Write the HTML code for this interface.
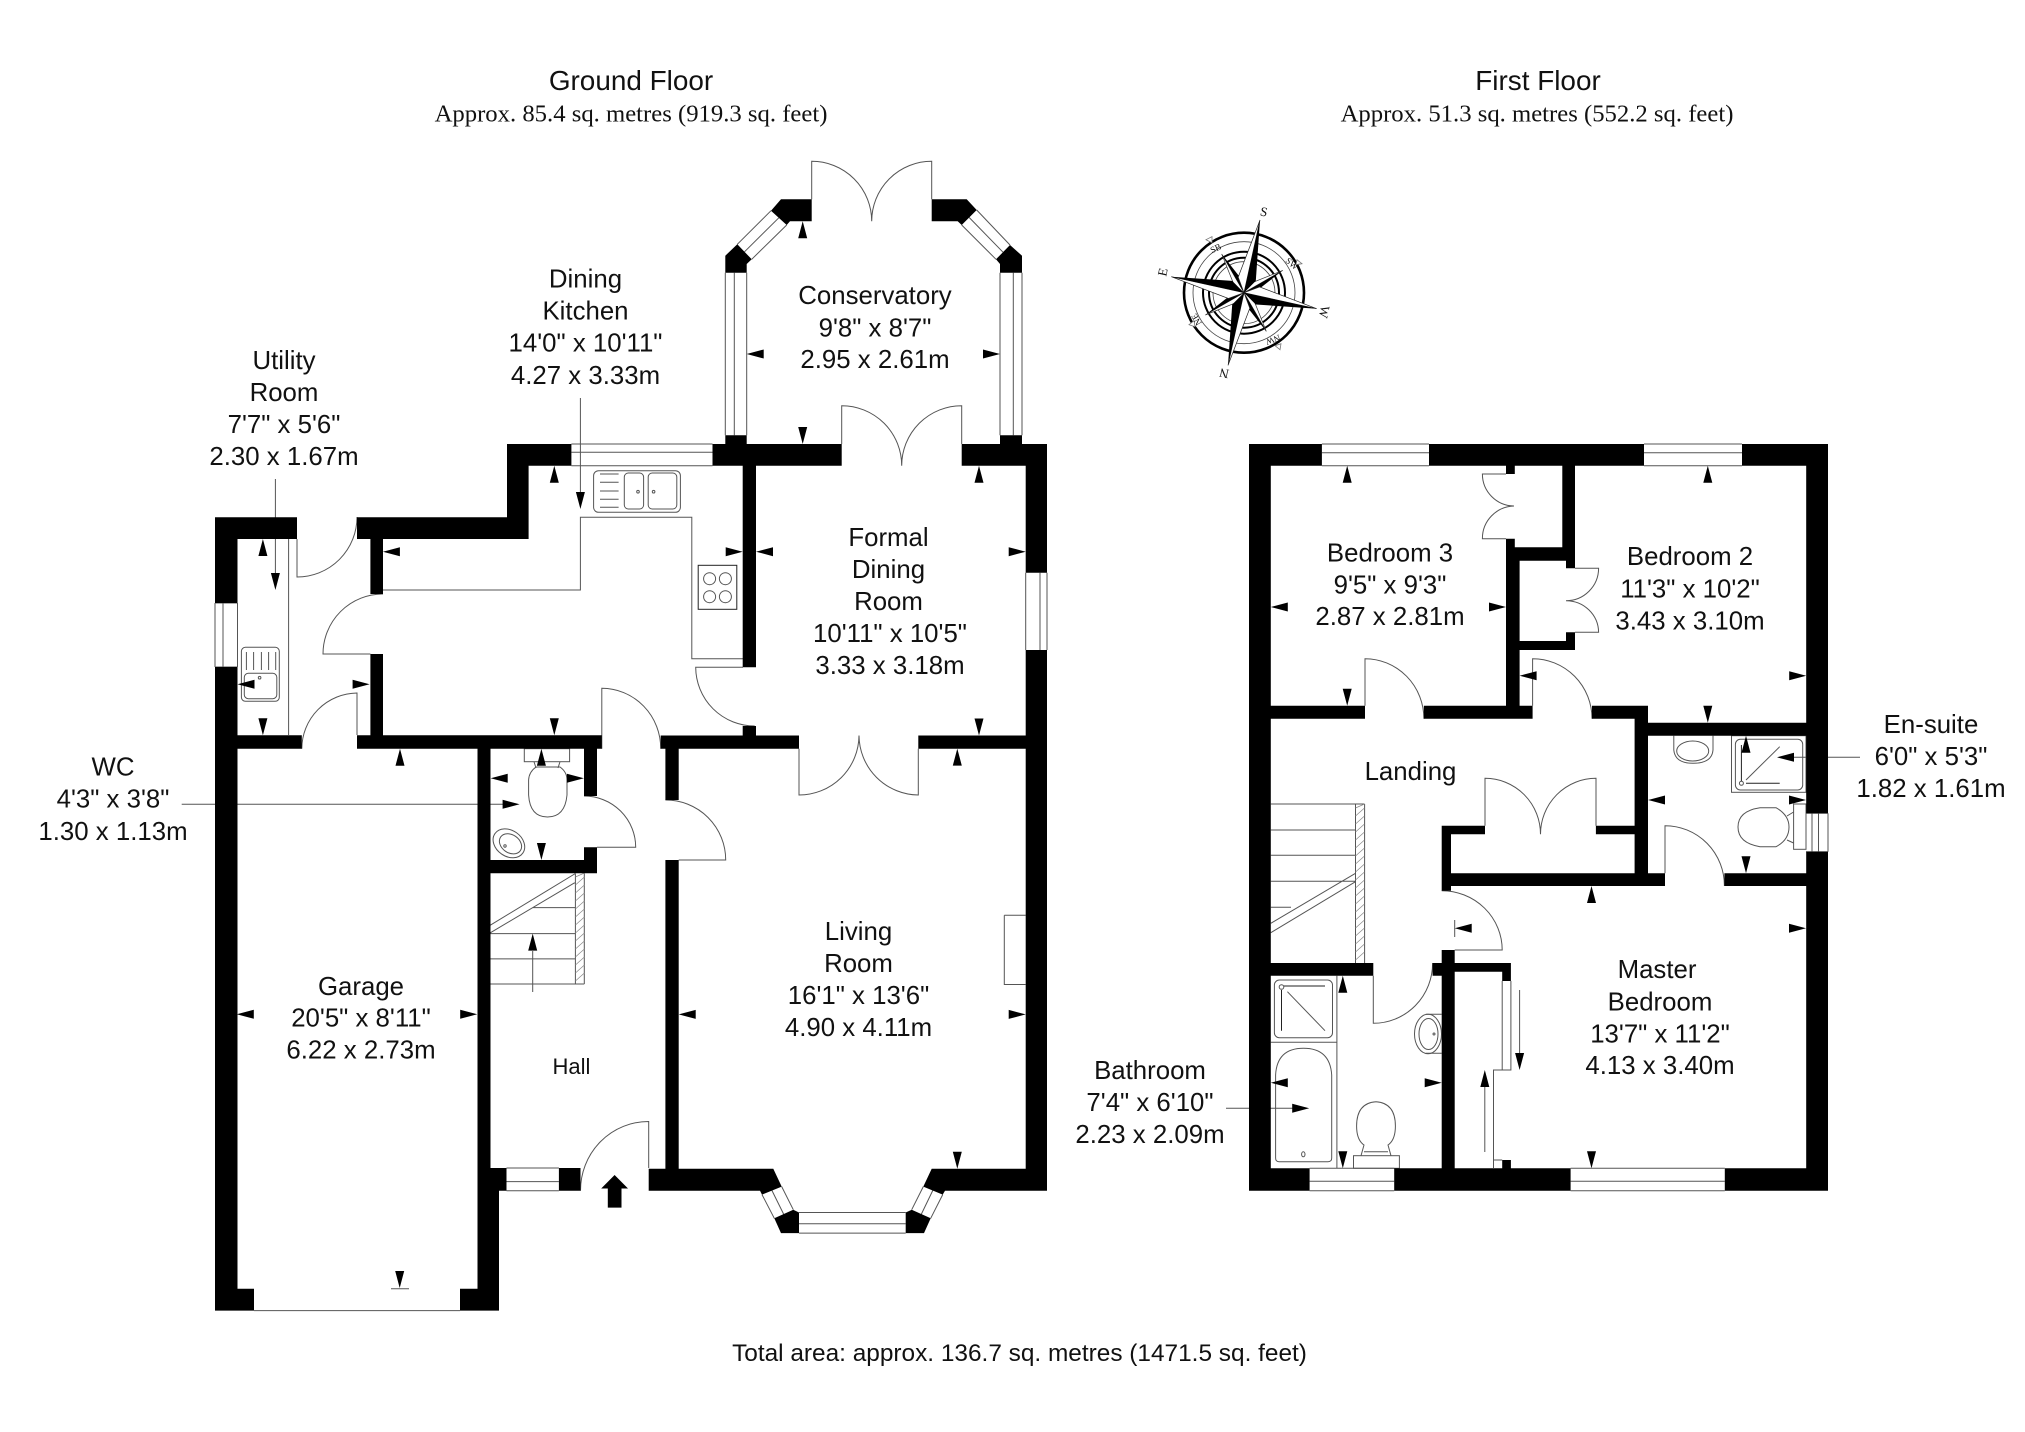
<!DOCTYPE html>
<html><head><meta charset="utf-8"><title>Floor plan</title>
<style>
html,body{margin:0;padding:0;background:#fff}
svg{display:block}
text{font-family:"Liberation Sans",sans-serif;fill:#111;text-anchor:middle;font-size:25.8px}
.s{font-family:"Liberation Serif",serif;font-size:24.7px}
.h{font-size:27.9px}
.c{font-family:"Liberation Serif",serif;font-size:13px}
.d{font-family:"Liberation Serif",serif;font-size:9px}
.t{fill:none;stroke:#555;stroke-width:1}
.k{fill:none;stroke:#222;stroke-width:1}
</style></head><body>
<svg xmlns="http://www.w3.org/2000/svg" width="2025" height="1432" viewBox="0 0 2025 1432">
<rect width="2025" height="1432" fill="#fff"/>

<!-- thin lines: ground floor -->
<path class="t" d="M571.4 444H712.5M571.4 452.3H712.5M571.4 465.7H712.5
M215 603H237.5M215 667H237.5M215 603V667M223 603V667M237.5 603V667
M725.3 272.7V435.3M734.3 272.7V435.3M746.7 272.7V435.3M1000 272.7V435.3M1013.3 272.7V435.3M1022 272.7V435.3
M771 210.7L737.3 244.3M778.8 217.8L744.5 251.8M786.7 225L751.7 259.3
M976.7 210L1010 245M969.2 217.5L1003 252.2M961.7 225L996 259.3
M1025.7 572.7V650M1040 572.7V650M1047 572.7V650
M799 1212.5H905.7M799 1223.8H905.7M799 1233.1H905.7
M762 1194.6L774.3 1218.3M771.7 1190L784 1214.9M781.7 1186.6L793.3 1209.7
M942.7 1194.6L930.7 1218.3M933 1190L921 1214.9M923.3 1186.6L911.7 1209.7
M506.5 1168H558.9M506.5 1181.6H558.9M506.5 1190.8H558.9
M254 1310.6H460M391 1288.7H409
M811.7 199.3V161.3A60 60 0 0 1 871.7 221.3A60 60 0 0 1 931.7 161.3V199.3
M841.7 444V405.7A60 60 0 0 1 901.7 465.7A60 60 0 0 1 961.7 405.7V444
M799 748.7V795A60 60 0 0 0 859 735.5A60 60 0 0 0 918.3 795V748.7
M297 539V577A60 60 0 0 0 357 517
M370.4 654H323A60 60 0 0 1 383 594
M357 735V693A56 56 0 0 0 301.8 748.7
M601.8 748.7V688.3A59 60 0 0 1 660.7 748.7
M743 667.3H695.7A59 59 0 0 0 754.7 726
M597 847.3H635.7A51.7 51.3 0 0 0 584 796
M678.7 860H725.7A60 60 0 0 0 665.4 800
M648.7 1168V1121.5A68 69 0 0 0 580.5 1190.8
M1004.3 915.3H1025.7M1004.3 915.3V984.5H1025.7
M382.9 590H580.4V517.3H691.8V658.7H743
M288.6 539V735
M575.4 873.5V984M584.3 873.5V984M490.5 984H584.3M490.5 958.9H575.4M490.5 933.6H575.4M532.3 907.6H575.4
M490.3 925.2L575.4 873.5M490.3 932.8L575.4 882.3M532.7 951V992
M580.4 398V492M275.4 479V573M181.7 804.3H503"/>
<path d="M575.4 877l9-4M575.4 885l9-8M575.4 893l9-8M575.4 901l9-8M575.4 909l9-8M575.4 917l9-8M575.4 925l9-8M575.4 933l9-8M575.4 941l9-8M575.4 949l9-8M575.4 957l9-8M575.4 965l9-8M575.4 973l9-8M575.4 981l9-8" stroke="#888" stroke-width=".7" fill="none"/>

<!-- kitchen fixtures -->
<g class="t" fill="none" stroke="#555">
<rect class="t" x="593.6" y="470.7" width="86.8" height="41.6" rx="5"/>
<rect class="t" x="624.3" y="473" width="19.3" height="36" rx="4"/>
<rect class="t" x="648.2" y="473" width="28.6" height="36" rx="4"/>
<path class="t" d="M600 474H618.6M600 482.3H618.6M600 491H618.6M600 499.3H618.6M600 507.3H618.6"/>
<circle class="t" cx="638" cy="491.7" r="1.3"/><circle class="t" cx="653.6" cy="491.7" r="1.3"/>
<rect class="k" x="698.2" y="565.3" width="38.6" height="44"/>
<circle class="t" cx="709.6" cy="578.7" r="6"/><circle class="t" cx="725.4" cy="578.7" r="6"/>
<circle class="t" cx="709.6" cy="596.7" r="6"/><circle class="t" cx="725.4" cy="596.7" r="6"/>
<rect class="t" x="241.4" y="647.3" width="37.9" height="54" rx="4"/>
<rect class="t" x="244.3" y="673.3" width="32.5" height="25.4" rx="4"/>
<path class="t" d="M246.4 652V670M253.6 652V670M261.4 652V670M268.6 652V670M275.7 652V670"/>
<circle class="t" cx="259.6" cy="677.7" r="1.3"/>
<!-- WC -->
<rect class="t" x="524.3" y="748.7" width="45.3" height="13"/>
<path class="t" d="M534 761.7L536 768M560 761.7L558 768M536 767H560Q567 772 567 780V795Q565 817 547.5 817Q530 817 528.6 795V780Q529 772 536 767Z"/>
<ellipse class="t" cx="508.9" cy="843.3" rx="17" ry="13" transform="rotate(35 508.9 843.3)"/>
<ellipse class="t" cx="510.5" cy="843.8" rx="12" ry="9" transform="rotate(35 510.5 843.8)"/>
<circle class="t" cx="505" cy="846" r="1.2"/>
</g>

<!-- walls: ground floor -->
<path fill="#000" d="M215 517.3H297V539H237.5V603H215Z
M215 667H237.5V1288.7H254V1310.6H215Z
M357 517.3H507V444H571.4V465.7H528.6V539H357Z
M712.5 444H841.7V465.7H756V667.3H742.7V465.7H712.5Z
M961.7 444H1047V572.7H1025.7V465.7H961.7Z
M1025.7 650H1047V1190.8H945L942.7 1194.6L923.3 1186.6L931.7 1168.7H1025.7Z
M742.7 726H756V735.5H742.7Z
M370.4 539H383V594H370.4Z
M370.4 654H383V735.3H370.4Z
M237.5 735.3H301.8V748.7H237.5Z
M357 735.3H601.8V748.7H357Z
M660.7 735.5H799V748.7H660.7Z
M918.3 735.5H1030V748.7H918.3Z
M477.5 748.7H490.5V1168H506.5V1190.8H499V1310.6H460V1288.7H477.5Z
M584 748.7H597V796H584Z
M584 847.3H597V873.3H490.5V860H584Z
M665.4 748.7H678.7V800H665.4Z
M665.4 860H678.7V1168.7H773.3L781.7 1186.6L762 1194.6L760 1190.8H648.7V1168.7H665.4Z
M558.9 1168H580.5V1190.8H558.9Z
M774.3 1218.3L793.3 1209.7L799 1212.5V1233.1H781Z
M905.7 1212.5L911.7 1209.7L930.7 1218.3L924 1233.1H905.7Z
M781 199.3H811.7V221.3H790L786.7 225L771 210.7Z
M737.3 244.3L751.7 259.3L746.7 264V272.7H725.3V255.7Z
M931.7 199.3H966.7L976.7 210L961.7 225L957.7 221.3H931.7Z
M1010 245L1022 255.7V272.7H1000V264L996 259.3Z
M725.3 435.3H746.7V444H725.3Z
M1000 435.3H1022V444H1000Z"/>

<!-- thin lines: first floor -->
<path class="t" d="M1321.9 444H1429M1321.9 452.7H1429M1321.9 465.7H1429
M1644 444H1742M1644 452.7H1742M1644 465.7H1742
M1309.6 1168.3H1394.2M1309.6 1181.3H1394.2M1309.6 1190.7H1394.2
M1570.6 1168.3H1724.8M1570.6 1181.3H1724.8M1570.6 1190.7H1724.8
M1806 813.3H1828M1806 851.7H1828M1812 813.3V851.7M1818.5 813.3V851.7M1828 813.3V851.7
M1506 474H1482.4A32 32 0 0 0 1514 506A32.5 32.5 0 0 0 1482.4 538.7H1506
M1575 568.3H1598.6A32.5 32.5 0 0 1 1566 600.7A32.5 32 0 0 1 1598.6 632.3H1575
M1365 705.7V658.7A59 60 0 0 1 1423.9 718.7
M1532.6 705.7V658.7A59.4 60 0 0 1 1592 718.7
M1485 825.7V778.3A55.5 56 0 0 1 1540.5 834.3A55.5 56 0 0 1 1596 778.3V825.7
M1665 873.3V825.7A59.4 60 0 0 1 1724.4 886
M1454.7 950H1502.2A60.5 59.3 0 0 0 1441.7 890.7
M1373.3 975.7V1023.3A59.3 60 0 0 0 1432.6 963
M1270.8 804H1364.6M1355.5 804V963M1364.6 804V963M1270.8 830H1355.5M1270.8 855.3H1355.5M1270.8 881.3H1355.5M1270.8 907.3H1291
M1270.8 923.3L1355.5 873.3M1270.8 932.7L1355.5 881.7
M1502.2 981V1070H1493.5V1160H1502.2M1510.9 981V1070H1502.2M1493.5 1160V1168
M1519.6 990V1054M1484.8 1087V1152M1454.7 920V937
M1336.9 975.7V1168.3M1270.8 1042.3H1336.9
M1226 1108.3H1293M1793 757.3H1860"/>
<path d="M1355.5 808l9-4M1355.5 816l9-8M1355.5 824l9-8M1355.5 832l9-8M1355.5 840l9-8M1355.5 848l9-8M1355.5 856l9-8M1355.5 864l9-8M1355.5 872l9-8M1355.5 880l9-8M1355.5 888l9-8M1355.5 896l9-8M1355.5 904l9-8M1355.5 912l9-8M1355.5 920l9-8M1355.5 928l9-8M1355.5 936l9-8M1355.5 944l9-8M1355.5 952l9-8M1355.5 960l9-8" stroke="#888" stroke-width=".7" fill="none"/>

<!-- first floor fixtures -->
<rect class="t" x="1731.5" y="735.7" width="74.5" height="56.6"/>
<rect class="t" x="1735.4" y="739.3" width="67.3" height="50.7" rx="5"/>
<path class="k" d="M1741.4 745V781M1746 783.3H1779.7"/>
<path class="t" d="M1746 780L1779.7 746.7"/>
<circle class="t" cx="1741.4" cy="783.3" r="2"/>
<path class="t" d="M1673.8 735.7V750Q1675 763.3 1693 763.3Q1712 763.3 1713 750V735.7"/>
<ellipse class="t" cx="1692.7" cy="751" rx="16" ry="10"/>
<rect class="t" x="1793.6" y="804" width="12.4" height="45.3"/>
<path class="t" d="M1793.6 812L1787 816M1793.6 843L1787 840M1760 807.7H1776Q1789 815 1789 827Q1789 840 1776 846.7H1760Q1738 843 1738 827Q1738 811 1760 807.7Z"/>
<rect class="t" x="1274.4" y="980" width="58.1" height="57.7" rx="5"/>
<path class="k" d="M1283.5 986H1325M1281.5 990V1030.7"/>
<path class="t" d="M1287.4 991.7L1325 1030.7"/>
<circle class="t" cx="1281.5" cy="987" r="2.3"/>
<path class="t" d="M1275.6 1075Q1277 1048.3 1303.5 1048.3Q1330 1048.3 1331.7 1075V1158Q1331.7 1161.7 1328 1161.7H1279Q1275.6 1161.7 1275.6 1158Z"/>
<ellipse class="t" cx="1303.3" cy="1154.3" rx="1.7" ry="2.5"/>
<path class="t" d="M1376 1101.7Q1395.4 1103 1395.4 1126Q1395.4 1140 1388 1145L1391 1155.7M1376 1101.7Q1356.6 1103 1356.6 1126Q1356.6 1140 1364 1145L1361 1155.7M1364 1151.7H1388"/>
<rect class="t" x="1353.5" y="1155.7" width="45.9" height="12.6"/>
<path class="t" d="M1425.8 1014.3H1441.7M1425.8 1053.3H1441.7"/>
<ellipse class="t" cx="1428" cy="1034" rx="13.5" ry="19.7"/>
<ellipse class="t" cx="1428.5" cy="1034" rx="9.5" ry="15.5"/>
<circle class="t" cx="1434" cy="1034" r="1"/>

<!-- walls: first floor -->
<path fill="#000" d="M1249 444H1321.9V465.7H1270.8V705.7H1365V718.7H1270.8V963H1373.3V975.7H1270.8V1168.3H1309.6V1190.7H1249Z
M1429 444H1644V465.7H1575V568.3H1566V560.7H1519.6V632.3H1519.6V641H1566V632.3H1575V650H1519.6V705.7H1532.6V718.7H1423.9V705.7H1506V538.7H1514.8V547.3H1562.3V465.7H1514.8V474H1506V465.7H1429Z
M1742 444H1828V813.3H1806.2V465.7H1742Z
M1806.2 851.7H1828V1190.7H1724.8V1168.3H1806.2V886H1724.4V873.3H1806.2Z
M1592 705.7H1648V722.7H1806.2V735.7H1648V873.3H1665V886H1451V890.7H1441.7V825.7H1485V834.3H1451V873.3H1634.6V834.3H1595.9V825.7H1634.6V718.7H1592Z
M1394.2 1168.3H1441.7V975.7H1432.6V963H1510.9V981H1502.2V971.7H1454.7V1168.3H1502.2V1160H1510.9V1168.3H1570.6V1190.7H1394.2Z
M1441.7 950H1454.7V963H1441.7Z"/>

<!-- dimension arrows -->
<path fill="#000" d="
M262.9 539l-4.5 17h9z M554.3 465.7l-4.5 17h9z M400 748.7l-4.5 17h9z M541.4 748.7l-4.5 17h9z
M802.7 221.3l-4.5 17h9z M979 465.7l-4.5 17h9z M957.3 748.6l-4.5 17h9z M532.7 933.6l-4.5 17h9z
M1347.2 465.7l-4.5 17h9z M1707.8 465.7l-4.5 17h9z M1746 735.7l-4.5 17h9z M1591.5 886l-4.5 17h9z
M1342.8 975.7l-4.5 17h9z M1484.8 1070l-4.5 17h9z
M262.9 735.3l-4.5 -17h9z M554.3 735.3l-4.5 -17h9z M541.4 860l-4.5 -17h9z M802.7 444l-4.5 -17h9z
M979 735.5l-4.5 -17h9z M957.3 1168.7l-4.5 -17h9z M399.7 1288l-4.5 -17h9z M580.4 509l-4.5 -17h9z M275.4 590l-4.5 -17h9z
M1347.2 705.7l-4.5 -17h9z M1707.8 722.7l-4.5 -17h9z M1746 873.3l-4.5 -17h9z M1591.5 1168.3l-4.5 -17h9z
M1342.8 1168.3l-4.5 -17h9z M1519.6 1070l-4.5 -17h9z
M237.5 684.3l17 -4.5v9z M382.9 551.7l17 -4.5v9z M490.7 778.3l17 -4.5v9z M756 551.7l17 -4.5v9z
M746.7 354l17 -4.5v9z M236.8 1014.3l17 -4.5v9z M678.7 1014.4l17 -4.5v9z
M1270.8 607l17 -4.5v9z M1519.6 675.7l17 -4.5v9z M1648 800l17 -4.5v9z M1454.7 928.3l17 -4.5v9z
M1270.8 1082.7l17 -4.5v9z M1777 757.3l17 -4.5v9z
M369.6 684.3l-17 -4.5v9z M742.7 551.7l-17 -4.5v9z M583.9 778.3l-17 -4.5v9z M1025.7 551.7l-17 -4.5v9z
M1000 354l-17 -4.5v9z M477.2 1014.3l-17 -4.5v9z M1025.7 1014.4l-17 -4.5v9z M519.6 804.3l-17 -4.5v9z
M1506 607l-17 -4.5v9z M1806.2 675.7l-17 -4.5v9z M1806 800l-17 -4.5v9z M1806 928.3l-17 -4.5v9z
M1441.7 1082.7l-17 -4.5v9z M1309.2 1108.3l-17 -4.5v9z
M614.6 1175L628 1188.5H621.5V1207.6H607.8V1188.5H601.2Z"/>

<!-- compass -->
<g transform="translate(1244 292.7)">
<circle r="60" fill="#fff" stroke="#000" stroke-width="2.6"/>
<circle r="51" fill="none" stroke="#444" stroke-width=".8"/>
<circle r="41" fill="none" stroke="#000" stroke-width="2"/>
<circle r="35" fill="none" stroke="#000" stroke-width="2"/>
<circle r="31" fill="none" stroke="#444" stroke-width=".8"/>
<path d="M-38 -53l6 -3l0 6zM53 -33l5 4l-6 1zM36 57l-5 -4l6 -2zM-55 32l5 -4l1 6z" fill="#fff" stroke="#777" stroke-width=".8"/>
<g fill="#fff" stroke="#333" stroke-width=".7">
<path d="M0 0L-22.3 -38.7L-9.3 -6.2Z"/><path d="M0 0L38.7 -22.3L6.2 -9.3Z"/><path d="M0 0L22.3 38.7L9.3 6.2Z"/><path d="M0 0L-38.7 22.3L-6.2 9.3Z"/>
</g>
<g fill="#000">
<path d="M0 0L-22.3 -38.7L-.7 -11.2Z"/><path d="M0 0L38.7 -22.3L11.2 -.7Z"/><path d="M0 0L22.3 38.7L.7 11.2Z"/><path d="M0 0L-38.7 22.3L-11.2 .7Z"/>
</g>
<g fill="#fff" stroke="#222" stroke-width=".7">
<path d="M0 0L16 -72.7L-5.8 -15.6Z"/><path d="M0 0L72.7 16L15.6 -5.8Z"/><path d="M0 0L-16 72.7L5.8 15.6Z"/><path d="M0 0L-72.7 -16L-15.6 5.8Z"/>
</g>
<g fill="#000">
<path d="M0 0L16 -72.7L11.8 -11.8Z"/><path d="M0 0L72.7 16L11.8 11.8Z"/><path d="M0 0L-16 72.7L-11.8 11.8Z"/><path d="M0 0L-72.7 -16L-11.8 -11.8Z"/>
</g>
</g>
<text class="c" transform="translate(1263 216) rotate(12)">S</text>
<text class="c" transform="translate(1167 273) rotate(-78)">E</text>
<text class="c" transform="translate(1320 311) rotate(102)">W</text>
<text class="c" transform="translate(1225 369) rotate(192)">N</text>
<text class="d" transform="translate(1217 251) rotate(-25)">SB</text>
<text class="d" transform="translate(1290 266) rotate(40)">SW</text>
<text class="d" transform="translate(1199 318) rotate(240)">NE</text>
<text class="d" transform="translate(1272 337) rotate(160)">NW</text>

<!-- titles -->
<text class="h" x="631" y="90">Ground Floor</text>
<text class="s" x="631" y="121.7">Approx. 85.4 sq. metres (919.3 sq. feet)</text>
<text class="h" x="1538" y="90">First Floor</text>
<text class="s" x="1537" y="121.7">Approx. 51.3 sq. metres (552.2 sq. feet)</text>
<text x="1019.5" y="1361" style="font-size:24.4px">Total area: approx. 136.7 sq. metres (1471.5 sq. feet)</text>

<!-- labels -->
<text x="585.5" y="287.5">Dining</text><text x="585.5" y="319.5">Kitchen</text><text x="585.5" y="351.5">14'0" x 10'11"</text><text x="585.5" y="384">4.27 x 3.33m</text>
<text x="284" y="369">Utility</text><text x="284" y="401">Room</text><text x="284" y="433">7'7" x 5'6"</text><text x="284" y="465">2.30 x 1.67m</text>
<text x="875" y="304">Conservatory</text><text x="875" y="336.5">9'8" x 8'7"</text><text x="875" y="368">2.95 x 2.61m</text>
<text x="888.5" y="546">Formal</text><text x="888.5" y="578">Dining</text><text x="888.5" y="610">Room</text><text x="890" y="642">10'11" x 10'5"</text><text x="890" y="674">3.33 x 3.18m</text>
<text x="858.5" y="940">Living</text><text x="858.5" y="972">Room</text><text x="858.5" y="1004">16'1" x 13'6"</text><text x="858.5" y="1036">4.90 x 4.11m</text>
<text x="361" y="995">Garage</text><text x="361" y="1026.6">20'5" x 8'11"</text><text x="361" y="1058.4">6.22 x 2.73m</text>
<text x="571.5" y="1074" style="font-size:22px">Hall</text>
<text x="113" y="775.7">WC</text><text x="113" y="807.5">4'3" x 3'8"</text><text x="113" y="840">1.30 x 1.13m</text>
<text x="1390" y="561.7">Bedroom 3</text><text x="1390" y="593.3">9'5" x 9'3"</text><text x="1390" y="625">2.87 x 2.81m</text>
<text x="1690" y="565">Bedroom 2</text><text x="1690" y="597.7">11'3" x 10'2"</text><text x="1690" y="629.3">3.43 x 3.10m</text>
<text x="1410.5" y="780">Landing</text>
<text x="1657" y="978">Master</text><text x="1660" y="1010.5">Bedroom</text><text x="1660" y="1042.5">13'7" x 11'2"</text><text x="1660" y="1074">4.13 x 3.40m</text>
<text x="1931" y="733">En-suite</text><text x="1931" y="765">6'0" x 5'3"</text><text x="1931" y="797">1.82 x 1.61m</text>
<text x="1150" y="1079">Bathroom</text><text x="1150" y="1111">7'4" x 6'10"</text><text x="1150" y="1143">2.23 x 2.09m</text>
</svg>
</body></html>
